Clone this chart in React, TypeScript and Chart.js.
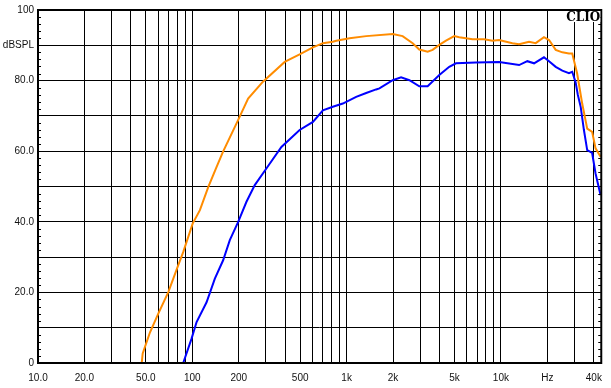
import React, { useEffect, useRef } from "react";
import { Chart, registerables } from "chart.js";

Chart.register(...registerables);

// Orange curve (frequency Hz, level dBSPL)
const orangeFreq = [47, 47.7, 53.2, 60.2, 69.9, 81.1, 87.3, 100.5, 112, 127, 143.5, 158, 198, 230, 287, 397, 496, 605, 702, 814, 857, 1044, 1339, 1990, 2307, 2679, 2958, 3350, 3608, 3988, 4405, 4987, 5370, 6546, 7785, 8810, 9731, 11860, 13120, 15210, 16810, 19010, 20500, 22650, 25000, 27600, 28990, 31190, 33630, 36240, 39010, 41050, 44250];
const orangeDb = [0, 2.7, 8.7, 14.0, 20.1, 27.7, 31.4, 39.5, 43.3, 49.9, 55.5, 59.8, 68.8, 74.9, 79.7, 85.3, 87.4, 89.4, 90.6, 91.0, 91.3, 92.0, 92.6, 93.2, 92.6, 90.6, 88.8, 88.2, 88.7, 90.1, 91.3, 92.6, 92.3, 91.7, 91.7, 91.3, 91.5, 90.6, 90.3, 91.0, 90.6, 92.3, 91.5, 88.7, 88.0, 87.7, 87.7, 82.0, 73.5, 66.4, 65.5, 60.8, 58.4];

// Blue curve (frequency Hz, level dBSPL)
const blueFreq = [87.3, 98.9, 106.6, 123.7, 140, 158.4, 175, 198, 224, 254, 302, 378, 496, 605, 702, 814, 945, 1153, 1339, 1553, 1632, 1990, 2254, 2552, 2958, 3350, 3988, 4625, 5112, 6885, 9731, 13120, 14840, 16400, 19010, 20500, 22650, 25000, 27600, 28990, 30480, 31500, 32870, 34510, 36240, 39010, 41050, 44250];
const blueDb = [0, 6.9, 11.6, 17.2, 23.9, 29.1, 34.8, 39.9, 45.6, 50.4, 55.1, 61.2, 66.0, 68.3, 71.6, 72.6, 73.5, 75.4, 76.5, 77.5, 77.8, 80.1, 80.9, 80.1, 78.4, 78.4, 81.6, 83.9, 84.9, 85.1, 85.3, 84.4, 85.5, 84.9, 86.6, 85.5, 83.9, 82.8, 82.1, 82.5, 79.5, 76.0, 72.6, 66.0, 60.3, 59.5, 53.7, 47.5];

// Axis ticks
const xGridValues = [10, 20, 30, 40, 50, 60, 70, 80, 90, 100, 200, 300, 400, 500, 600, 700, 800, 900, 1000, 2000, 3000, 4000, 5000, 6000, 7000, 8000, 9000, 10000, 20000, 30000, 40000];
const xLabelValues = [10, 20, 50, 100, 200, 500, 1000, 2000, 5000, 10000, 20000, 40000];
const xLabelTexts = ["10.0", "20.0", "50.0", "100", "200", "500", "1k", "2k", "5k", "10k", "Hz", "40k"];
const yLabelValues = [100, 90, 80, 60, 40, 20, 0];
const yLabelTexts = ["100", "dBSPL", "80.0", "60.0", "40.0", "20.0", "0"];

const X_MIN = 10;
const X_MAX = 44700;

const framePlugin = {
  id: "frame",
  afterDraw(chart: any) {
    const { ctx, chartArea } = chart;
    const { left, right, top, bottom } = chartArea;
    const y = chart.scales.y;
    ctx.save();
    // minor ticks
    ctx.strokeStyle = "#000";
    ctx.lineWidth = 1;
    for (let v = 2; v < 100; v += 2) {
      if (v % 10 === 0) continue;
      const py = Math.round(y.getPixelForValue(v)) + 0.5;
      ctx.beginPath();
      ctx.moveTo(left, py);
      ctx.lineTo(left + 3, py);
      ctx.moveTo(right - 3, py);
      ctx.lineTo(right, py);
      ctx.stroke();
    }
    // frame
    ctx.lineWidth = 2;
    ctx.strokeRect(left, top, right - left, bottom - top);
    // CLIO logo
    ctx.font = "bold 12px 'DejaVu Serif'";
    const w = ctx.measureText("CLIO").width;
    ctx.fillStyle = "#fff";
    ctx.fillRect(right - w - 3, top + 1, w + 2, 11);
    ctx.fillStyle = "#000";
    ctx.textAlign = "right";
    ctx.textBaseline = "top";
    ctx.fillText("CLIO", right - 1, top + 2);
    ctx.restore();
  },
};

export default function App() {
  const ref = useRef<HTMLCanvasElement>(null);
  useEffect(() => {
    document.body.style.margin = "0";
    const canvas = ref.current!;
    const chart = new Chart(canvas, {
      type: "line",
      data: {
        datasets: [
          {
            data: orangeFreq.map((f, i) => ({ x: f, y: orangeDb[i] })),
            borderColor: "#FF8C00",
            borderWidth: 2,
            pointRadius: 0,
            tension: 0,
          },
          {
            data: blueFreq.map((f, i) => ({ x: f, y: blueDb[i] })),
            borderColor: "#0000FF",
            borderWidth: 2,
            pointRadius: 0,
            tension: 0,
          },
        ],
      },
      options: {
        responsive: false,
        animation: false,
        devicePixelRatio: 1,
        layout: { padding: { top: 10, right: 9, left: 0, bottom: 0 } },
        plugins: { legend: { display: false }, tooltip: { enabled: false } },
        scales: {
          x: {
            type: "logarithmic",
            min: X_MIN,
            max: X_MAX,
            afterBuildTicks: (scale: any) => {
              scale.ticks = xGridValues.map((v) => ({ value: v }));
            },
            afterFit: (scale: any) => {
              scale.height = 25;
            },
            grid: { color: "#000", lineWidth: 1, drawTicks: false },
            border: { display: false },
            ticks: {
              autoSkip: false,
              maxRotation: 0,
              padding: 9,
              color: "#111",
              font: { family: "'Liberation Sans', Arial", size: 10 },
              callback: (value: any) => {
                const i = xLabelValues.indexOf(Number(value));
                return i >= 0 ? xLabelTexts[i] : "";
              },
            },
          },
          y: {
            type: "linear",
            min: 0,
            max: 100,
            afterFit: (scale: any) => {
              scale.width = 38;
            },
            grid: { color: "#000", lineWidth: 1, drawTicks: false },
            border: { display: false },
            ticks: {
              stepSize: 10,
              padding: 4,
              color: "#111",
              font: { family: "'Liberation Sans', Arial", size: 10 },
              callback: (value: any) => {
                const i = yLabelValues.indexOf(Number(value));
                return i >= 0 ? yLabelTexts[i] : "";
              },
            },
          },
        },
      },
      plugins: [framePlugin],
    } as any);
    return () => chart.destroy();
  }, []);
  return (
    <div style={{ width: 611, height: 388, background: "#fff" }}>
      <canvas ref={ref} width={611} height={388} />
    </div>
  );
}
